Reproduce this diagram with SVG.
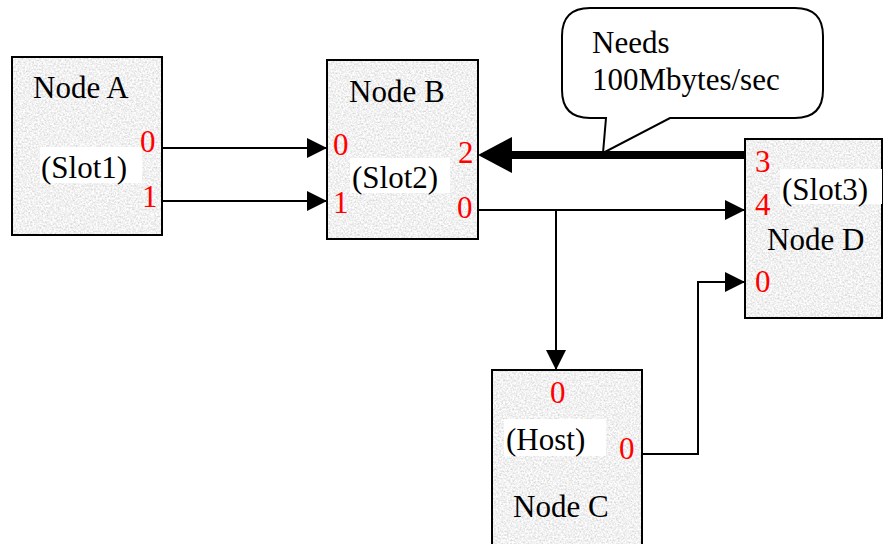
<svg xmlns="http://www.w3.org/2000/svg" width="885" height="544" viewBox="0 0 885 544">
<style>
text { font-family: 'Liberation Serif', 'DejaVu Serif', 'Times New Roman', Times, serif; font-size: 31px; fill: #000; }
text.port { fill: #ff0000; }
.tex { fill: #000; filter: url(#granite); }
.frame { fill: none; stroke: #000; stroke-width: 2; }
.lbl { fill: #fff; }
.wire { fill: none; stroke: #000; stroke-width: 2; }
</style>
<defs>
<filter id="granite" x="0" y="0" width="100%" height="100%">
<feTurbulence type="fractalNoise" baseFrequency="0.55" numOctaves="3" seed="7" result="n"/>
<feColorMatrix in="n" type="matrix" values="0.6 0 0 0 0.58  0.6 0 0 0 0.58  0.6 0 0 0 0.58  0 0 0 0 1" result="g"/>
<feComposite in="g" in2="SourceGraphic" operator="in"/>
</filter>
<marker id="arr" markerWidth="20" markerHeight="20" refX="20" refY="10" orient="auto" markerUnits="userSpaceOnUse">
<path d="M0,0 L20,10 L0,20 Z" fill="#000"/>
</marker>
<marker id="big" markerWidth="34" markerHeight="36" refX="0" refY="18" orient="auto" markerUnits="userSpaceOnUse">
<path d="M0,0 L34,18 L0,36 Z" fill="#000"/>
</marker>
</defs>
<rect width="885" height="544" fill="#fff"/>

<g font-family="Liberation Serif, DejaVu Serif, serif">
<g id="callout">
<path d="M590 8 H795 Q823 8 823 36 V90 Q823 118 795 118 H670 L603 153 L606 118 H590 Q562 118 562 90 V36 Q562 8 590 8 Z" fill="#fff" stroke="#000" stroke-width="2"/>
<text x="592" y="53">Needs</text>
<text x="592" y="90">100Mbytes/sec</text>
</g>

<g id="nodeA">
<rect class="tex" x="12" y="57" width="150" height="178"/>
<rect class="frame" x="12" y="57" width="150" height="178"/>
<text x="33" y="98">Node A</text>
<rect class="lbl" x="40" y="147" width="102" height="36"/>
<text x="41" y="178">(Slot1)</text>
<text class="port" x="140" y="152">0</text>
<text class="port" x="142" y="207">1</text>
</g>

<g id="nodeB">
<rect class="tex" x="327" y="60" width="151" height="179"/>
<rect class="frame" x="327" y="60" width="151" height="179"/>
<text x="349" y="102">Node B</text>
<rect class="lbl" x="350" y="158" width="100" height="35"/>
<text x="352" y="188">(Slot2)</text>
<text class="port" x="333" y="155">0</text>
<text class="port" x="333" y="213">1</text>
<text class="port" x="458" y="163">2</text>
<text class="port" x="457" y="218">0</text>
</g>

<g id="nodeD">
<rect class="tex" x="745" y="139" width="137" height="179"/>
<rect class="frame" x="745" y="139" width="137" height="179"/>
<rect class="lbl" x="780" y="169" width="102" height="35"/>
<text x="782" y="200">(Slot3)</text>
<text x="767" y="250">Node D</text>
<text class="port" x="755" y="172">3</text>
<text class="port" x="755" y="215">4</text>
<text class="port" x="755" y="292">0</text>
</g>

<g id="nodeC">
<rect class="tex" x="492" y="370" width="150" height="180"/>
<rect class="frame" x="492" y="370" width="150" height="180"/>
<text class="port" x="550" y="403">0</text>
<rect class="lbl" x="504" y="419" width="102" height="37"/>
<text x="506" y="450">(Host)</text>
<text class="port" x="619" y="459">0</text>
<text x="513" y="517">Node C</text>
</g>
</g>

<g id="connectors">
<path class="wire" d="M162 148 H327" marker-end="url(#arr)"/>
<path class="wire" d="M162 201 H327" marker-end="url(#arr)"/>
<path class="wire" d="M478 210 H745" marker-end="url(#arr)"/>
<path class="wire" d="M556 210 V370" marker-end="url(#arr)"/>
<path class="wire" d="M642 454 H698 V282 H745" marker-end="url(#arr)"/>
<path d="M745 155 H512" fill="none" stroke="#000" stroke-width="8" marker-end="url(#big)"/>
</g>
</svg>
